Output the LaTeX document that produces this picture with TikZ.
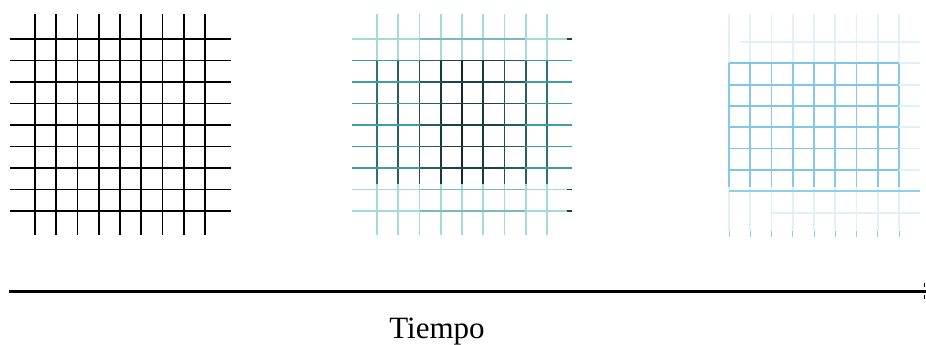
\documentclass[tikz,border=0pt]{standalone}
\usepackage{fontspec}
\setmainfont{Liberation Serif}

\definecolor{gridteal}{RGB}{62,158,160}
\definecolor{paleteal}{RGB}{165,218,220}
\definecolor{darkteal}{RGB}{28,66,68}
\definecolor{gridblue}{RGB}{92,186,220}
\definecolor{paleblue}{RGB}{226,241,247}

\tikzset{
  gridline/.style={line width=1.8pt},
  timeline/.style={line width=3pt},
}

\begin{document}
\begin{tikzpicture}[x=1pt,y=-1pt]
\useasboundingbox (0,0) rectangle (926,345);

% Grid at the start
\foreach \i in {0,...,8} {
  \draw[gridline, black] (35+\i*21.25,14) -- (35+\i*21.25,235);
  \draw[gridline, black] (10,39+\i*21.5) -- (231,39+\i*21.5);
}

% Grid part way
\foreach \i in {0,...,8} {
  \pgfmathsetmacro\dk{25+12*abs(\i-4)}
  \draw[gridline, paleteal] (377+\i*21.25,14) -- (377+\i*21.25,61);
  \draw[gridline, paleteal] (377+\i*21.25,184) -- (377+\i*21.25,235);
  \draw[gridline, gridteal!\dk!black] (377+\i*21.25,61) -- (377+\i*21.25,184);
}
\foreach \j in {1,...,6} {
  \draw[gridline, gridteal] (352,39+\j*21.5) -- (572,39+\j*21.5);
  \draw[gridline, gridteal!60!black] (420,39+\j*21.5) -- (525,39+\j*21.5);
  \draw[gridline, darkteal] (441,39+\j*21.5) -- (504,39+\j*21.5);
}
\foreach \j in {0,7,8} {
  \draw[gridline, paleteal] (352,39+\j*21.5) -- (572,39+\j*21.5);
  \draw[gridline, gridteal!70] (420,39+\j*21.5) -- (525,39+\j*21.5);
  \draw[gridline, darkteal] (567,39+\j*21.5) -- (572,39+\j*21.5);
}

% Grid at the end
\foreach \i in {0,...,8} {
  \draw[gridline, paleblue] (729+\i*21.25,14) -- (729+\i*21.25,63);
  \draw[gridline, paleblue] (729+\i*21.25,187) -- (729+\i*21.25,231);
  \draw[gridline, gridblue!75] (729+\i*21.25,63) -- (729+\i*21.25,187);
  \draw[line width=0.8pt, gridblue!70] (729+\i*21.25,231) -- (729+\i*21.25,237);
}
\foreach \j in {1,...,6} {
  \draw[gridline, paleblue] (729,42+\j*21.3) -- (920,42+\j*21.3);
  \draw[gridline, gridblue!80] (729,42+\j*21.3) -- (899,42+\j*21.3);
}
\draw[gridline, gridblue!70] (729,191) -- (920,191);
\draw[gridline, paleblue] (740,42) -- (920,42);
\draw[gridline, paleblue] (772,213) -- (920,213);

% Time axis
\coordinate (t0) at (9,291);
\coordinate (t1) at (926,291);
\draw[timeline] (t0) -- (t1);
\draw[line width=1pt] (924.5,283) -- (924.5,287);
\draw[line width=1pt] (924.5,295) -- (924.5,299);

\node[anchor=base, inner sep=0pt, font=\fontsize{31}{36}\selectfont] (tiempo) at (437,338) {Tiempo};
\end{tikzpicture}
\end{document}
